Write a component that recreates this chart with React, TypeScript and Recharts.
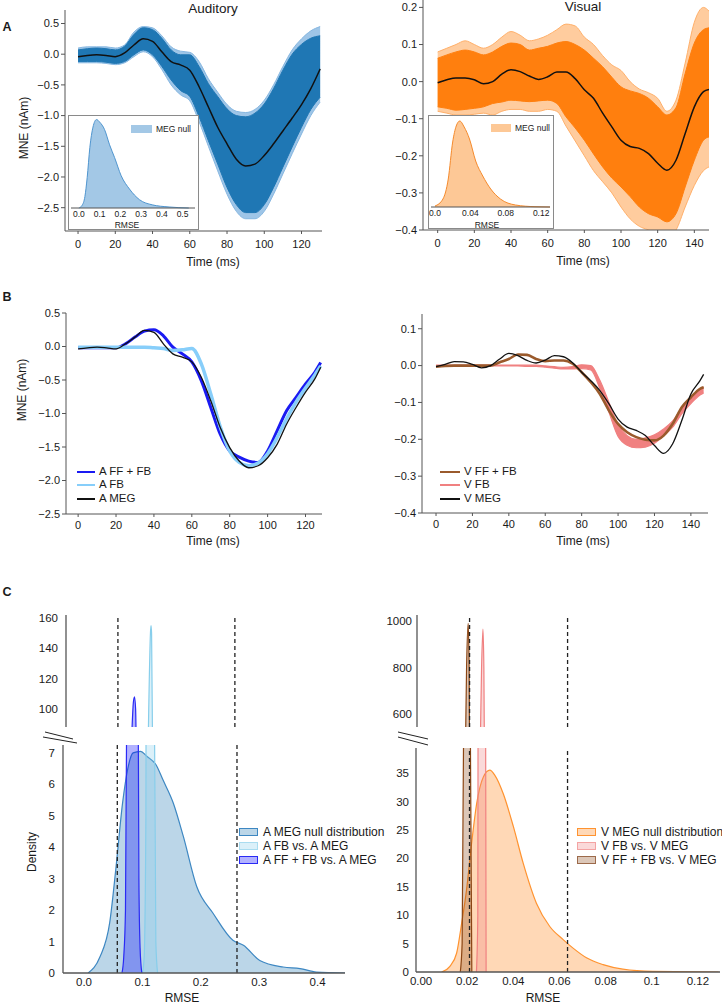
import React from "react";
import { ComposedChart, Area, Line, XAxis, YAxis, ReferenceLine } from "recharts";

const FONT = "'Liberation Sans', Arial, Helvetica, sans-serif";
const AXIS = "#555";
const INK = "#1a1a1a";

// ---------- A: null MEG traces (envelopes + mean) ----------
const aTime = [0, 5, 10, 15, 20, 25, 30, 35, 40, 45, 50, 55, 60, 65, 70, 75, 80, 85, 90, 95, 100, 105, 110, 115, 120, 125, 130];
const aMean = [-0.04, -0.02, -0.01, -0.02, -0.04, 0.02, 0.15, 0.25, 0.21, 0.04, -0.12, -0.175, -0.26, -0.53, -0.86, -1.19, -1.46, -1.71, -1.82, -1.79, -1.65, -1.46, -1.25, -1.04, -0.82, -0.56, -0.24];
const aDenseHi = [0.07, 0.09, 0.1, 0.09, 0.07, 0.13, 0.32, 0.43, 0.4, 0.26, 0.07, -0.01, -0.01, -0.2, -0.48, -0.69, -0.89, -1.0, -1.02, -0.96, -0.81, -0.56, -0.26, 0.0, 0.16, 0.26, 0.3];
const aDenseLo = [-0.12, -0.12, -0.12, -0.13, -0.15, -0.12, -0.01, 0.07, -0.01, -0.2, -0.42, -0.59, -0.69, -1.02, -1.41, -1.79, -2.17, -2.45, -2.58, -2.58, -2.45, -2.17, -1.84, -1.51, -1.19, -0.9, -0.7];
const aOuterHi = [0.1, 0.12, 0.12, 0.12, 0.1, 0.15, 0.36, 0.45, 0.43, 0.3, 0.12, 0.05, 0.03, -0.12, -0.4, -0.62, -0.82, -0.93, -0.95, -0.9, -0.75, -0.5, -0.2, 0.07, 0.25, 0.38, 0.45];
const aOuterLo = [-0.14, -0.14, -0.14, -0.15, -0.17, -0.14, -0.04, 0.04, -0.04, -0.25, -0.5, -0.66, -0.76, -1.1, -1.5, -1.9, -2.28, -2.56, -2.68, -2.68, -2.56, -2.28, -1.95, -1.62, -1.3, -1.0, -0.78];

const vTime = [0, 5, 10, 15, 20, 25, 30, 35, 40, 45, 50, 55, 60, 65, 70, 75, 80, 85, 90, 95, 100, 105, 110, 115, 120, 125, 130, 135, 140, 145, 148];
const vMean = [-0.003, 0.005, 0.01, 0.01, 0.005, -0.006, 0.0, 0.02, 0.032, 0.027, 0.015, 0.006, 0.013, 0.026, 0.026, 0.008, -0.022, -0.045, -0.085, -0.122, -0.158, -0.175, -0.18, -0.194, -0.22, -0.239, -0.212, -0.14, -0.068, -0.027, -0.021];
const vDenseHi = [0.063, 0.072, 0.08, 0.085, 0.08, 0.072, 0.08, 0.095, 0.104, 0.1, 0.085, 0.09, 0.095, 0.104, 0.108, 0.1, 0.085, 0.063, 0.04, 0.012, -0.014, -0.025, -0.032, -0.045, -0.068, -0.09, -0.07, 0.022, 0.104, 0.14, 0.145];
const vDenseLo = [-0.068, -0.072, -0.077, -0.075, -0.072, -0.068, -0.059, -0.055, -0.05, -0.052, -0.054, -0.052, -0.05, -0.059, -0.095, -0.125, -0.158, -0.195, -0.23, -0.26, -0.284, -0.31, -0.338, -0.356, -0.365, -0.378, -0.356, -0.284, -0.212, -0.158, -0.149];
const vOuterHi = [0.08, 0.09, 0.1, 0.11, 0.1, 0.09, 0.1, 0.12, 0.135, 0.125, 0.11, 0.115, 0.125, 0.14, 0.155, 0.15, 0.12, 0.1, 0.07, 0.045, 0.03, 0.0, -0.02, -0.03, -0.045, -0.08, -0.05, 0.05, 0.16, 0.2, 0.19];
const vOuterLo = [-0.08, -0.085, -0.09, -0.09, -0.088, -0.085, -0.09, -0.08, -0.075, -0.075, -0.08, -0.08, -0.075, -0.08, -0.12, -0.16, -0.2, -0.24, -0.27, -0.3, -0.338, -0.37, -0.39, -0.4, -0.41, -0.42, -0.4, -0.338, -0.28, -0.24, -0.23];

// insets: RMSE null histograms
const aInsetX = [0.0, 0.015, 0.029, 0.04, 0.053, 0.068, 0.085, 0.1, 0.124, 0.148, 0.172, 0.204, 0.244, 0.292, 0.354, 0.435, 0.53];
const aInsetY = [0, 0.2, 0.9, 2.4, 4.8, 6.4, 7.0, 6.8, 6.2, 5.0, 4.0, 2.55, 1.5, 0.66, 0.25, 0.08, 0];
const vInsetX = [0.0, 0.009, 0.015, 0.02, 0.024, 0.028, 0.033, 0.039, 0.046, 0.054, 0.063, 0.074, 0.091, 0.113, 0.13];
const vInsetY = [1, 8, 28, 65, 81, 86, 80, 68, 46, 31, 18, 8, 2, 0.3, 0];

// ---------- B: model fits ----------
const bATime = [0, 5, 10, 15, 20, 25, 30, 35, 40, 45, 50, 55, 60, 65, 70, 75, 80, 85, 90, 95, 100, 105, 110, 115, 120, 125, 128];
const bAFFFB = [-0.02, -0.02, -0.02, -0.02, -0.02, 0.04, 0.14, 0.23, 0.25, 0.16, -0.01, -0.11, -0.23, -0.51, -0.91, -1.31, -1.56, -1.65, -1.71, -1.73, -1.56, -1.26, -0.96, -0.76, -0.56, -0.38, -0.24];
const bAFB = [-0.01, -0.01, -0.01, -0.01, -0.01, -0.01, -0.01, -0.01, -0.02, -0.03, -0.06, -0.05, -0.03, -0.26, -0.71, -1.2, -1.56, -1.73, -1.78, -1.74, -1.6, -1.36, -1.08, -0.83, -0.62, -0.42, -0.29];
const bAMEG = [-0.035, -0.02, -0.01, -0.02, -0.035, 0.04, 0.14, 0.24, 0.21, 0.04, -0.11, -0.16, -0.23, -0.46, -0.81, -1.21, -1.51, -1.71, -1.81, -1.78, -1.66, -1.46, -1.16, -0.91, -0.68, -0.48, -0.31];

const bVTime = [0, 5, 10, 15, 20, 25, 30, 35, 40, 45, 50, 55, 60, 65, 70, 75, 80, 85, 90, 95, 100, 105, 110, 115, 120, 125, 130, 135, 140, 145, 147];
const bVFFFB = [-0.003, -0.001, 0, 0, 0, 0, 0, 0.009, 0.018, 0.03, 0.029, 0.018, 0.012, 0.014, 0.014, 0.005, -0.018, -0.045, -0.077, -0.122, -0.158, -0.181, -0.194, -0.201, -0.203, -0.19, -0.158, -0.113, -0.086, -0.063, -0.059];
const bVFBHi = [0.001, 0.001, 0.001, 0.001, 0.001, 0.001, 0.001, 0.001, 0.001, 0.001, 0.001, 0.001, -0.001, -0.003, -0.005, -0.003, 0.002, 0.0, -0.04, -0.1, -0.16, -0.19, -0.2, -0.196, -0.188, -0.172, -0.15, -0.115, -0.088, -0.064, -0.058];
const bVFBLo = [-0.001, -0.001, -0.001, -0.001, -0.001, -0.001, -0.001, -0.001, -0.001, -0.001, -0.002, -0.002, -0.004, -0.007, -0.009, -0.009, -0.008, -0.012, -0.062, -0.127, -0.192, -0.216, -0.223, -0.221, -0.211, -0.191, -0.167, -0.131, -0.103, -0.08, -0.074];
const bVMEG = [-0.003, 0.003, 0.011, 0.01, 0.003, -0.006, 0, 0.018, 0.033, 0.027, 0.014, 0.007, 0.015, 0.027, 0.024, 0.008, -0.018, -0.041, -0.068, -0.104, -0.145, -0.167, -0.176, -0.19, -0.217, -0.238, -0.212, -0.149, -0.077, -0.041, -0.024];

// ---------- C: RMSE densities ----------
const aNullX = [0.007, 0.027, 0.044, 0.055, 0.066, 0.075, 0.084, 0.097, 0.107, 0.124, 0.135, 0.153, 0.17, 0.193, 0.221, 0.255, 0.273, 0.301, 0.341, 0.37, 0.398, 0.447];
const aNullY = [0, 0.5, 1.6, 3.4, 5.4, 6.5, 7.0, 7.05, 6.9, 6.6, 6.15, 5.4, 4.35, 2.75, 1.9, 1.04, 0.88, 0.4, 0.19, 0.14, 0.03, 0];
const aFBX = [0.1, 0.103, 0.106, 0.108, 0.111, 0.114, 0.115, 0.116, 0.118, 0.12, 0.123, 0.126];
const aFBY = [0, 0.5, 5, 30, 100, 150, 155, 150, 60, 10, 1, 0];
const aFFFBX = [0.065, 0.068, 0.071, 0.073, 0.076, 0.08, 0.084, 0.086, 0.088, 0.09, 0.092, 0.094, 0.096, 0.099];
const aFFFBY = [0, 0.5, 2, 8, 30, 70, 104, 108, 100, 50, 12, 3, 0.8, 0];
const aThresh = [0.057, 0.262];

const vNullX = [0.0089, 0.0125, 0.0154, 0.0176, 0.0197, 0.0219, 0.0241, 0.027, 0.0298, 0.032, 0.0356, 0.04, 0.0443, 0.05, 0.0558, 0.0616, 0.0659, 0.0717, 0.0789, 0.0875, 0.1005, 0.129];
const vNullY = [0, 1, 3.3, 8.6, 14.4, 22.6, 29.6, 34.3, 35.5, 34.6, 31.4, 25.6, 19.1, 12.1, 8, 5.7, 4.2, 2.5, 1.3, 0.5, 0.1, 0];
const vFBX = [0.024, 0.0246, 0.0252, 0.0262, 0.0268, 0.0272, 0.0277, 0.0282];
const vFBY = [0, 10, 200, 800, 965, 800, 100, 0];
const vFFFBX = [0.017, 0.0178, 0.0184, 0.019, 0.0197, 0.0204, 0.0208, 0.0211, 0.0214, 0.022];
const vFFFBY = [0, 5, 40, 300, 800, 990, 800, 200, 40, 0];
const vThresh = [0.021, 0.0635];

const cLeftTicks = [0, 0.1, 0.2, 0.3, 0.4];
const cRightTicks = [0, 0.02, 0.04, 0.06, 0.08, 0.1, 0.12];
const cRightLabels = ["0.00", "0.02", "0.04", "0.06", "0.08", "0.1", "0.12"];

// ---------- helpers ----------
const fmt1 = (v: number) => (Math.abs(v) < 1e-9 ? 0 : v).toFixed(1).replace("-", "\u2212");
const xy = (xs: number[], ys: number[]) => xs.map((x, i) => ({ x, y: ys[i] }));

const aRows = aTime.map((t, i) => ({ t, mean: aMean[i], dense: [aDenseLo[i], aDenseHi[i]], outer: [aOuterLo[i], aOuterHi[i]] }));
const vRows = vTime.map((t, i) => ({ t, mean: vMean[i], dense: [vDenseLo[i], vDenseHi[i]], outer: [vOuterLo[i], vOuterHi[i]] }));
const bARows = bATime.map((t, i) => ({ t, fffb: bAFFFB[i], fb: bAFB[i], meg: bAMEG[i] }));
const bVRows = bVTime.map((t, i) => ({ t, fffb: bVFFFB[i], fb: [bVFBLo[i], bVFBHi[i]], meg: bVMEG[i] }));

type Frame = { x0: number; y0: number; x1: number; y1: number };
const YW = 50, PAD = 6, XH = 30;
function place(f: Frame, withX = true) {
  return {
    style: { position: "absolute" as const, left: f.x0 - YW, top: f.y0 - PAD },
    width: f.x1 - f.x0 + YW + PAD,
    height: f.y1 - f.y0 + PAD + (withX ? XH : 0),
    margin: { top: PAD, right: PAD, bottom: 0, left: 0 },
  };
}

const tick = { fontSize: 11, fill: INK, fontFamily: FONT };
const cTick = { fontSize: 11.5, fill: INK, fontFamily: FONT };
const smallTick = { fontSize: 8.5, fill: INK, fontFamily: FONT };

const Txt = ({ x, y, s = 12, b = false, r = 0, left = false, children }: any) => (
  <div
    style={{
      position: "absolute", left: x, top: y, whiteSpace: "nowrap", lineHeight: 1,
      transform: `translate(${left ? "0" : "-50%"}, -50%) rotate(${r}deg)`,
      fontSize: s, fontWeight: b ? 700 : 400, color: INK, fontFamily: FONT,
    }}
  >
    {children}
  </div>
);

const LineKey = ({ x, y, w, color, sw, label }: any) => (
  <>
    <div style={{ position: "absolute", left: x, top: y - sw / 2, width: w, height: sw, background: color }} />
    <Txt x={x + w + 4} y={y} s={11.5} left>{label}</Txt>
  </>
);

const PatchKey = ({ x, y, fill, edge, label }: any) => (
  <>
    <div style={{ position: "absolute", left: x, top: y - 4, width: 17, height: 6, background: fill, border: `1.5px solid ${edge}` }} />
    <Txt x={x + 24} y={y} left s={12}>{label}</Txt>
  </>
);

function NullPanel({ f, rows, xDom, xTicks, yDom, yTicks, dense, outer, outerOpacity }: any) {
  const p = place(f);
  return (
    <div style={p.style}>
      <ComposedChart width={p.width} height={p.height} margin={p.margin} data={rows}>
        <XAxis dataKey="t" type="number" domain={xDom} ticks={xTicks} interval={0} allowDataOverflow stroke={AXIS} tick={tick} tickSize={3} tickMargin={6} height={XH} />
        <YAxis type="number" domain={yDom} ticks={yTicks} interval={0} allowDataOverflow tickFormatter={fmt1} stroke={AXIS} tick={tick} tickSize={4} tickMargin={2} width={YW} />
        <Area dataKey="outer" type="monotone" fill={outer} stroke={outer} strokeWidth={1} fillOpacity={outerOpacity} isAnimationActive={false} />
        <Area dataKey="dense" type="monotone" fill={dense} stroke={dense} strokeWidth={1} fillOpacity={1} isAnimationActive={false} />
        <Line dataKey="mean" type="monotone" stroke="#111" strokeWidth={1.5} dot={false} activeDot={false} isAnimationActive={false} />
      </ComposedChart>
    </div>
  );
}

function Inset({ left, top, w, h, data, xDom, xTicks, xLabels, yMax, fill, edge }: any) {
  return (
    <div style={{ position: "absolute", left, top, width: w, height: h, background: "#fff", border: "1px solid #8a8a8a", boxSizing: "border-box" }}>
      <ComposedChart width={w - 2} height={h - 2} margin={{ top: 1, right: 3, bottom: 0, left: 2 }} data={data}>
        <XAxis dataKey="x" type="number" domain={xDom} ticks={xTicks} interval={0} allowDataOverflow tickFormatter={(v: number, i: number) => xLabels[i]} stroke={AXIS} tickLine={false} tick={smallTick} tickSize={0} tickMargin={3} height={21} />
        <YAxis type="number" domain={[0, yMax]} hide />
        <Area dataKey="y" type="monotone" fill={fill} stroke={edge} strokeWidth={1} fillOpacity={1} isAnimationActive={false} />
      </ComposedChart>
    </div>
  );
}

function Density({ f, withX, xDom, xTicks, xLabels, yDom, yTicks, thresh, series, tm }: any) {
  const p = place(f, withX);
  return (
    <div style={p.style}>
      <ComposedChart width={p.width} height={p.height} margin={p.margin}>
        <XAxis dataKey="x" type="number" domain={xDom} ticks={xTicks} interval={0} allowDataOverflow hide={!withX}
          tickFormatter={(v: number, i: number) => xLabels[i]} stroke={AXIS} strokeWidth={1.3} tickLine={false} tick={cTick} tickSize={0} tickMargin={5} height={XH} />
        <YAxis type="number" domain={yDom} ticks={yTicks} interval={0} allowDataOverflow stroke={AXIS} strokeWidth={1.3} tickLine={false} tick={cTick} tickSize={0} tickMargin={tm} width={YW} />
        {series.map((s: any) => (
          <Area key={s.name} data={s.data} dataKey="y" type="monotone" fill={s.color} fillOpacity={0.3} stroke={s.edge} strokeWidth={1.2} isAnimationActive={false} />
        ))}
        {thresh.map((t: number) => (
          <ReferenceLine key={t} x={t} stroke="#222" strokeWidth={1.3} strokeDasharray="4 3" ifOverflow="hidden" />
        ))}
      </ComposedChart>
    </div>
  );
}

export default function App() {
  const pBA = place({ x0: 66, y0: 313, x1: 322, y1: 514 });
  const pBV = place({ x0: 422, y0: 314, x1: 708, y1: 513 });

  const aSeries = [
    { name: "null", data: xy(aNullX, aNullY), color: "#1f77b4", edge: "#3d87c2" },
    { name: "fb", data: xy(aFBX, aFBY), color: "#87ceeb", edge: "#87ceeb" },
    { name: "fffb", data: xy(aFFFBX, aFFFBY), color: "#0000ff", edge: "#2a2af5" },
  ];
  const vSeries = [
    { name: "null", data: xy(vNullX, vNullY), color: "#ff7f0e", edge: "#ff9330" },
    { name: "fb", data: xy(vFBX, vFBY), color: "#f08080", edge: "#f08080" },
    { name: "fffb", data: xy(vFFFBX, vFFFBY), color: "#8b4513", edge: "#8b4513" },
  ];

  return (
    <div style={{ position: "absolute", left: 0, top: 0, width: 722, height: 1005, overflow: "hidden", background: "#fff", fontFamily: FONT }}>
      {/* ---------- A ---------- */}
      <Txt x={7} y={27} b s={12.5}>A</Txt>
      <Txt x={213} y={9} s={13.5}>Auditory</Txt>
      <Txt x={583} y={7} s={13.5}>Visual</Txt>
      <NullPanel f={{ x0: 65, y0: 10, x1: 322, y1: 231 }} rows={aRows} xDom={[-7, 131]} xTicks={[0, 20, 40, 60, 80, 100, 120]}
        yDom={[-2.88, 0.72]} yTicks={[-2.5, -2, -1.5, -1, -0.5, 0, 0.5]} dense="#1f77b4" outer="#86b7e1" outerOpacity={0.8} />
      <NullPanel f={{ x0: 423, y0: 0, x1: 709, y1: 230 }} rows={vRows} xDom={[-8, 148]} xTicks={[0, 20, 40, 60, 80, 100, 120, 140]}
        yDom={[-0.4, 0.22]} yTicks={[-0.4, -0.3, -0.2, -0.1, 0, 0.1, 0.2]} dense="#ff7f0e" outer="#ffb06a" outerOpacity={0.65} />
      <Txt x={24} y={128} r={-90}>MNE (nAm)</Txt>
      <Txt x={213} y={262}>Time (ms)</Txt>
      <Txt x={583} y={261}>Time (ms)</Txt>

      <Inset left={68} top={115} w={131} h={115} data={xy(aInsetX, aInsetY)} xDom={[-0.038, 0.56]} xTicks={[0, 0.1, 0.2, 0.3, 0.4, 0.5]}
        xLabels={["0.0", "0.1", "0.2", "0.3", "0.4", "0.5"]} yMax={7.2} fill="#a3c8e6" edge="#4f95cf" />
      <div style={{ position: "absolute", left: 131, top: 125, width: 21, height: 8, background: "#a3c8e6" }} />
      <Txt x={156} y={129} s={8.5} left>MEG null</Txt>
      <Txt x={127} y={225} s={8.5}>RMSE</Txt>

      <Inset left={428} top={115} w={126} h={114} data={xy(vInsetX, vInsetY)} xDom={[-0.0045, 0.13]} xTicks={[0, 0.04, 0.08, 0.12]}
        xLabels={["0.0", "0.04", "0.08", "0.12"]} yMax={90} fill="#fdc896" edge="#f58a2c" />
      <div style={{ position: "absolute", left: 491, top: 124, width: 20, height: 8, background: "#fdc896" }} />
      <Txt x={515} y={128} s={8.5} left>MEG null</Txt>
      <Txt x={487} y={225} s={8.5}>RMSE</Txt>

      {/* ---------- B ---------- */}
      <Txt x={7} y={297} b s={12.5}>B</Txt>
      <div style={pBA.style}>
        <ComposedChart width={pBA.width} height={pBA.height} margin={pBA.margin} data={bARows}>
          <XAxis dataKey="t" type="number" domain={[-6.4, 128.7]} ticks={[0, 20, 40, 60, 80, 100, 120]} interval={0} allowDataOverflow stroke={AXIS} tick={tick} tickSize={3} tickMargin={4} height={XH} />
          <YAxis type="number" domain={[-2.5, 0.5]} ticks={[-2.5, -2, -1.5, -1, -0.5, 0, 0.5]} interval={0} allowDataOverflow tickFormatter={fmt1} stroke={AXIS} tick={tick} tickSize={4} tickMargin={2} width={YW} />
          <Line dataKey="fffb" type="monotone" stroke="#1a1af2" strokeWidth={3} dot={false} activeDot={false} isAnimationActive={false} />
          <Line dataKey="fb" type="monotone" stroke="#87cefa" strokeWidth={3.5} dot={false} activeDot={false} isAnimationActive={false} />
          <Line dataKey="meg" type="monotone" stroke="#111" strokeWidth={1.3} dot={false} activeDot={false} isAnimationActive={false} />
        </ComposedChart>
      </div>
      <div style={pBV.style}>
        <ComposedChart width={pBV.width} height={pBV.height} margin={pBV.margin} data={bVRows}>
          <XAxis dataKey="t" type="number" domain={[-7.7, 149.4]} ticks={[0, 20, 40, 60, 80, 100, 120, 140]} interval={0} allowDataOverflow stroke={AXIS} tick={tick} tickSize={3} tickMargin={4} height={XH} />
          <YAxis type="number" domain={[-0.4, 0.14]} ticks={[-0.4, -0.3, -0.2, -0.1, 0, 0.1]} interval={0} allowDataOverflow tickFormatter={fmt1} stroke={AXIS} tick={tick} tickSize={4} tickMargin={2} width={YW} />
          <Line dataKey="fffb" type="monotone" stroke="#9a5a2c" strokeWidth={2.6} dot={false} activeDot={false} isAnimationActive={false} />
          <Area dataKey="fb" type="monotone" fill="#f08080" stroke="#f08080" strokeWidth={1.2} fillOpacity={1} isAnimationActive={false} />
          <Line dataKey="meg" type="monotone" stroke="#111" strokeWidth={1.3} dot={false} activeDot={false} isAnimationActive={false} />
        </ComposedChart>
      </div>
      <Txt x={22} y={390} r={-90}>MNE (nAm)</Txt>
      <Txt x={213} y={541}>Time (ms)</Txt>
      <Txt x={583} y={541}>Time (ms)</Txt>
      <LineKey x={77} y={472} w={18} sw={2.5} color="#1a1af2" label="A FF + FB" />
      <LineKey x={77} y={485} w={18} sw={2} color="#87cefa" label="A FB" />
      <LineKey x={77} y={499} w={18} sw={1.5} color="#111" label="A MEG" />
      <LineKey x={440} y={472} w={20} sw={2.5} color="#9a5a2c" label="V FF + FB" />
      <LineKey x={440} y={485} w={20} sw={2} color="#f08080" label="V FB" />
      <LineKey x={440} y={499} w={20} sw={1.5} color="#111" label="V MEG" />

      {/* ---------- C ---------- */}
      <Txt x={7} y={592} b s={12.5}>C</Txt>
      <Density f={{ x0: 66, y0: 615, x1: 345, y1: 727 }} withX={false} xDom={[-0.034, 0.455]} xTicks={cLeftTicks} xLabels={[]}
        yDom={[88, 162]} yTicks={[100, 120, 140, 160]} thresh={aThresh} series={aSeries} tm={8} />
      <Density f={{ x0: 63, y0: 745, x1: 345, y1: 973 }} withX xDom={[-0.036, 0.447]} xTicks={cLeftTicks} xLabels={["0.0", "0.1", "0.2", "0.3", "0.4"]}
        yDom={[0, 7.25]} yTicks={[0, 1, 2, 3, 4, 5, 6, 7]} thresh={aThresh} series={aSeries} tm={8} />
      <Density f={{ x0: 417, y0: 615, x1: 720, y1: 727 }} withX={false} xDom={[-0.0018, 0.1296]} xTicks={cRightTicks} xLabels={[]}
        yDom={[544, 1026]} yTicks={[600, 800, 1000]} thresh={vThresh} series={vSeries} tm={5} />
      <Density f={{ x0: 416, y0: 748, x1: 720, y1: 972 }} withX xDom={[-0.0022, 0.1296]} xTicks={cRightTicks} xLabels={cRightLabels}
        yDom={[0, 39.4]} yTicks={[0, 5, 10, 15, 20, 25, 30, 35]} thresh={vThresh} series={vSeries} tm={7} />
      <svg style={{ position: "absolute", left: 0, top: 0 }} width={722} height={1005} pointerEvents="none">
        <line x1={45} y1={732} x2={73} y2={739} stroke="#222" strokeWidth={1} />
        <line x1={43} y1={737} x2={77} y2={743} stroke="#222" strokeWidth={1} />
        <line x1={398} y1={732} x2={428} y2={739} stroke="#222" strokeWidth={1} />
        <line x1={398} y1={737} x2={428} y2={745} stroke="#222" strokeWidth={1} />
      </svg>
      <Txt x={32} y={852} r={-90}>Density</Txt>
      <Txt x={182} y={998}>RMSE</Txt>
      <Txt x={543} y={998}>RMSE</Txt>
      <PatchKey x={239} y={832} fill="rgba(31,119,180,0.3)" edge="#3d87c2" label="A MEG null distribution" />
      <PatchKey x={239} y={846} fill="rgba(135,206,235,0.3)" edge="#a9dcf0" label="A FB vs. A MEG" />
      <PatchKey x={239} y={860} fill="rgba(0,0,255,0.3)" edge="#2a2af5" label="A FF + FB vs. A MEG" />
      <PatchKey x={577} y={832} fill="rgba(255,127,14,0.3)" edge="#ff9330" label="V MEG null distribution" />
      <PatchKey x={577} y={846} fill="rgba(240,128,128,0.3)" edge="#f4a3a3" label="V FB vs. V MEG" />
      <PatchKey x={577} y={860} fill="rgba(139,69,19,0.3)" edge="#9c6a4a" label="V FF + FB vs. V MEG" />
    </div>
  );
}
